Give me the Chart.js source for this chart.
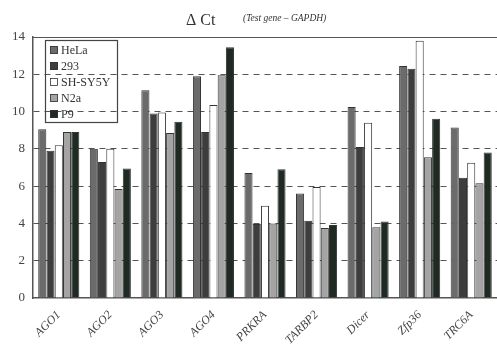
<!DOCTYPE html>
<html>
<head>
<meta charset="utf-8">
<script src="https://cdn.jsdelivr.net/npm/chart.js@4"></script>
<style>
  html, body { margin: 0; padding: 0; background: #fff; }
  #wrap { width: 497px; height: 349px; }
</style>
</head>
<body>
<div id="wrap"><canvas id="ctChart" width="497" height="349"></canvas></div>
<script>
const genes = ["AGO1", "AGO2", "AGO3", "AGO4", "PRKRA", "TARBP2", "Dicer", "Zfp36", "TRC6A"];
const yTicks = [0, 2, 4, 6, 8, 10, 12, 14];

const hela   = [9.05, 8.0, 11.15, 11.9, 6.7, 5.6, 10.25, 12.45, 9.15];
const c293   = [7.9, 7.3, 9.9, 8.9, 3.97, 4.15, 8.1, 12.3, 6.45];
const shsy5y = [8.2, 8.0, 9.95, 10.35, 4.95, 5.95, 9.4, 13.8, 7.25];
const n2a    = [8.9, 5.85, 8.85, 11.95, 4.0, 3.75, 3.8, 7.55, 6.15];
const p9     = [8.9, 6.95, 9.45, 13.45, 6.9, 3.92, 4.1, 9.62, 7.8];

const serif = "'Liberation Serif', 'DejaVu Serif', serif";

const ctx = document.getElementById("ctChart");

// legend box drawn inside the plot, top left
const boxLegend = {
    id: "boxLegend",
    afterDraw(chart) {
        const c = chart.ctx;
        c.save();
        c.strokeStyle = "#444";
        c.lineWidth = 1.2;
        c.strokeRect(45.5, 40.5, 72, 82);
        c.font = "12px " + serif;
        c.textBaseline = "middle";
        chart.data.datasets.forEach((ds, i) => {
            const y = 50 + i * 16;
            c.fillStyle = ds.backgroundColor;
            c.fillRect(50, y - 4, 8, 8);
            c.strokeStyle = "#333";
            c.lineWidth = 0.8;
            c.strokeRect(50.5, y - 3.5, 7, 7);
            c.fillStyle = "#333";
            c.fillText(ds.label, 61, y + 1);
        });
        c.restore();
    }
};

// title and top frame line
const titleTop = {
    id: "titleTop",
    afterDraw(chart) {
        const c = chart.ctx;
        const a = chart.chartArea;
        c.save();
        c.strokeStyle = "#555";
        c.lineWidth = 1.2;
        c.beginPath();
        c.moveTo(a.left, a.top + 0.5);
        c.lineTo(a.right, a.top + 0.5);
        c.stroke();
        c.fillStyle = "#333";
        c.textBaseline = "alphabetic";
        c.font = "16px " + serif;
        c.fillText("\u0394 Ct", 186, 25);
        c.font = "italic 9.5px " + serif;
        c.fillText("(Test gene \u2013 GAPDH)", 243, 21);
        c.restore();
    }
};

new Chart(ctx, {
    type: "bar",
    data: {
        labels: genes,
        datasets: [
            { label: "HeLa", data: hela, backgroundColor: "#6b6b6b" },
            { label: "293", data: c293, backgroundColor: "#3d3d3d" },
            { label: "SH-SY5Y", data: shsy5y, backgroundColor: "#ffffff" },
            { label: "N2a", data: n2a, backgroundColor: "#a4a4a4" },
            { label: "P9", data: p9, backgroundColor: "#1f2a22" }
        ].map(d => Object.assign(d, {
            borderColor: "#333",
            borderWidth: 1,
            categoryPercentage: 0.8,
            barPercentage: 0.98
        }))
    },
    options: {
        responsive: false,
        animation: false,
        layout: { padding: { top: 37, right: 0, left: 0, bottom: 0 } },
        plugins: {
            legend: { display: false },
            title: { display: false },
            tooltip: { enabled: false }
        },
        scales: {
            x: {
                afterFit(s) { s.height = 51; },
                grid: { display: false },
                border: { color: "#555", width: 1.5 },
                ticks: {
                    color: "#444",
                    font: { family: serif, size: 12, style: "italic" },
                    maxRotation: 45,
                    minRotation: 45,
                    padding: 2
                }
            },
            y: {
                min: 0,
                max: 14,
                afterFit(s) { s.width = 33; },
                afterBuildTicks(s) { s.ticks = yTicks.map(v => ({ value: v })); },
                border: { color: "#555", width: 1.5, dash: [6, 5] },
                grid: {
                    color: ctx => (ctx.tick && ctx.tick.value > 0 && ctx.tick.value < 14) ? "#555" : "rgba(0,0,0,0)",
                    lineWidth: 1,
                    drawTicks: false
                },
                ticks: {
                    color: "#444",
                    padding: 8,
                    font: { family: serif, size: 13 }
                }
            }
        }
    },
    plugins: [boxLegend, titleTop]
});
</script>
</body>
</html>
